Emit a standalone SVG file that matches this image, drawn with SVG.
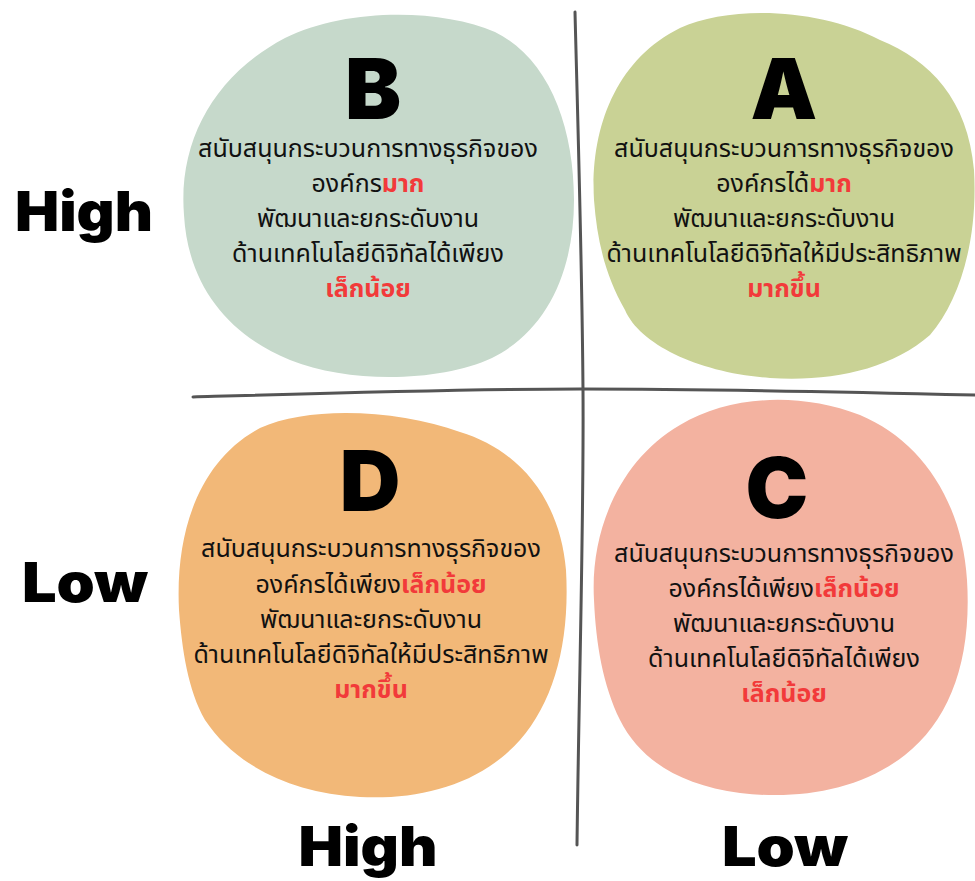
<svg xmlns="http://www.w3.org/2000/svg" width="975" height="881" viewBox="0 0 975 881">
<style>
.th{font-family:"Noto Sans Thai","Noto Sans Thai UI","Noto Sans Thai Looped",Loma,Garuda,"DejaVu Sans",sans-serif;font-size:25px;fill:#111;text-anchor:middle}
.red{fill:#f23a3a;font-weight:700}
.big{font-family:Inter,Lato,"Liberation Sans",sans-serif;font-weight:900;fill:#000;text-anchor:middle}
.letter{font-size:84px}
.axis{font-size:55px}
.line{fill:none;stroke:#555;stroke-width:3;stroke-linecap:round}
</style>
<rect width="975" height="881" fill="#fff"/>
<g id="axes">
<path class="line" d="M575,12 C578,130 582,260 583,390 C584,520 579,680 577,845"/>
<path class="line" d="M193,397 C330,393 460,389 580,389 C720,389 850,392 975,395"/>
</g>
<g id="blobB">
<path fill="#c6d9cb" d="M184,215 C178,140 215,75 285,38 C345,8 440,8 495,32 C548,58 574,125 574,200 C574,270 548,330 492,358 C440,382 350,384 290,360 C228,335 188,285 184,215 Z"/>
<text class="big letter" x="373" y="119">B</text>
<text class="th" x="368" y="157">สนับสนุนกระบวนการทางธุรกิจของ</text>
<text class="th" x="368" y="192">องค์กร<tspan class="red">มาก</tspan></text>
<text class="th" x="368" y="227">พัฒนาและยกระดับงาน</text>
<text class="th" x="368" y="262">ด้านเทคโนโลยีดิจิทัลได้เพียง</text>
<text class="th red" x="368" y="297">เล็กน้อย</text>
</g>
<g id="blobA">
<path fill="#c9d295" d="M594,200 C590,130 615,60 680,28 C730,5 820,8 880,40 C930,60 968,100 974,170 C978,240 960,300 930,335 C890,370 830,382 770,378 C700,373 640,345 625,310 C605,275 597,240 594,200 Z"/>
<text class="big letter" x="784" y="119">A</text>
<text class="th" x="784" y="157">สนับสนุนกระบวนการทางธุรกิจของ</text>
<text class="th" x="784" y="192">องค์กรได้<tspan class="red">มาก</tspan></text>
<text class="th" x="784" y="227">พัฒนาและยกระดับงาน</text>
<text class="th" x="784" y="262">ด้านเทคโนโลยีดิจิทัลให้มีประสิทธิภาพ</text>
<text class="th red" x="784" y="297">มากขึ้น</text>
</g>
<g id="blobD">
<path fill="#f2b878" d="M179,610 C175,530 200,460 260,428 C310,405 400,410 460,432 C520,450 560,500 566,570 C570,640 555,700 520,740 C480,785 420,800 360,797 C290,793 235,765 205,720 C188,690 182,650 179,610 Z"/>
<text class="big letter" x="370" y="511">D</text>
<text class="th" x="371" y="557">สนับสนุนกระบวนการทางธุรกิจของ</text>
<text class="th" x="371" y="593">องค์กรได้เพียง<tspan class="red">เล็กน้อย</tspan></text>
<text class="th" x="371" y="628">พัฒนาและยกระดับงาน</text>
<text class="th" x="371" y="663">ด้านเทคโนโลยีดิจิทัลให้มีประสิทธิภาพ</text>
<text class="th red" x="371" y="698">มากขึ้น</text>
</g>
<g id="blobC">
<path fill="#f3b2a0" d="M594,600 C590,530 620,460 680,425 C730,395 800,392 860,415 C920,440 962,500 967,580 C972,660 950,720 905,755 C860,790 800,800 740,793 C680,785 640,760 620,720 C603,685 596,645 594,600 Z"/>
<text class="big letter" x="777" y="518">C</text>
<text class="th" x="784" y="562">สนับสนุนกระบวนการทางธุรกิจของ</text>
<text class="th" x="784" y="597">องค์กรได้เพียง<tspan class="red">เล็กน้อย</tspan></text>
<text class="th" x="784" y="632">พัฒนาและยกระดับงาน</text>
<text class="th" x="784" y="667">ด้านเทคโนโลยีดิจิทัลได้เพียง</text>
<text class="th red" x="784" y="702">เล็กน้อย</text>
</g>
<g id="labels">
<text class="big axis" x="84" y="231" textLength="138" lengthAdjust="spacingAndGlyphs">High</text>
<text class="big axis" x="85" y="602" textLength="126" lengthAdjust="spacingAndGlyphs">Low</text>
<text class="big axis" x="368" y="866" textLength="139" lengthAdjust="spacingAndGlyphs">High</text>
<text class="big axis" x="785" y="866" textLength="126" lengthAdjust="spacingAndGlyphs">Low</text>
</g>
</svg>
